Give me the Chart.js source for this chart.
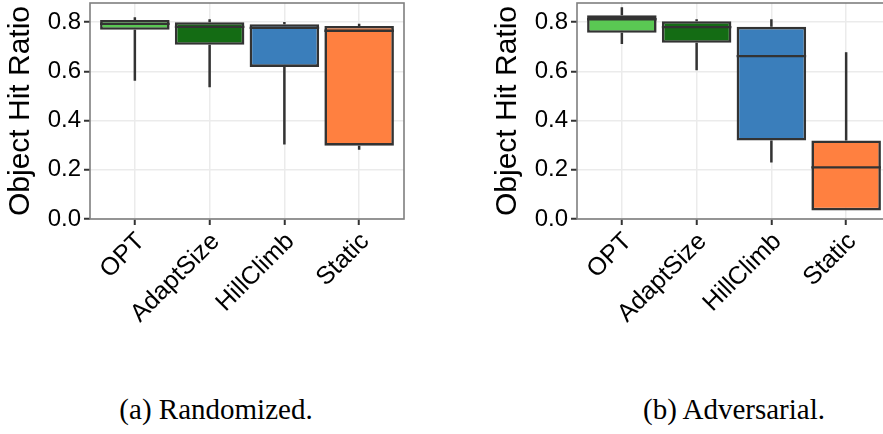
<!DOCTYPE html>
<html>
<head>
<meta charset="utf-8">
<script src="https://cdn.jsdelivr.net/npm/chart.js@4/dist/chart.umd.min.js"></script>
<style>
  html, body { margin: 0; padding: 0; background: #fff; }
  body { width: 883px; height: 434px; position: relative; overflow: hidden; }
  canvas { position: absolute; top: 0; }
  .caption { position: absolute; font-family: "Liberation Serif", serif; font-size: 29px; color: #000; white-space: nowrap; transform: translateX(-50%); }
</style>
</head>
<body>
<canvas id="chartRand" width="441" height="340" style="left:0px"></canvas>
<canvas id="chartAdv" width="441" height="340" style="left:487px"></canvas>
<div class="caption" style="left:216px; top:393px">(a) Randomized.</div>
<div class="caption" style="left:734px; top:393px">(b) Adversarial.</div>

<script>
// categories and tick labels
var categories = ['OPT', 'AdaptSize', 'HillClimb', 'Static'];
var yTickLabels = [0.0, 0.2, 0.4, 0.6, 0.8];

// (a) Randomized
var randMin = [0.562, 0.536, 0.303, 0.281];
var randQ1  = [0.769, 0.708, 0.618, 0.298];
var randMed = [0.793, 0.781, 0.777, 0.765];
var randQ3  = [0.809, 0.800, 0.792, 0.785];
var randMax = [0.820, 0.812, 0.801, 0.794];

// (b) Adversarial
var advMin = [0.711, 0.605, 0.230, 0.035];
var advQ1  = [0.757, 0.716, 0.319, 0.035];
var advMed = [0.812, 0.780, 0.662, 0.210];
var advQ3  = [0.828, 0.804, 0.781, 0.319];
var advMax = [0.861, 0.812, 0.812, 0.678];

var boxColors = ['#5AC853', '#146C14', '#3A7EBB', '#FF8040'];

// whiskers, medians and panel frame
var boxParts = {
    id: 'boxParts',
    beforeDatasetsDraw: function(chart, args, opts) {
        var ctx = chart.ctx, xs = chart.scales.x, ys = chart.scales.y;
        ctx.save();
        ctx.strokeStyle = '#333333';
        ctx.lineWidth = 2.5;
        for (var i = 0; i < categories.length; i++) {
            var x = xs.getPixelForValue(i + 1);
            ctx.beginPath();
            ctx.moveTo(x, ys.getPixelForValue(opts.min[i]));
            ctx.lineTo(x, ys.getPixelForValue(opts.q1[i]));
            ctx.moveTo(x, ys.getPixelForValue(opts.q3[i]));
            ctx.lineTo(x, ys.getPixelForValue(opts.max[i]));
            ctx.stroke();
        }
        ctx.restore();
    },
    afterDatasetsDraw: function(chart, args, opts) {
        var ctx = chart.ctx, ys = chart.scales.y;
        var meta = chart.getDatasetMeta(0);
        ctx.save();
        ctx.strokeStyle = '#333333';
        ctx.lineWidth = 2.4;
        meta.data.forEach(function(bar, i) {
            var y = ys.getPixelForValue(opts.med[i]);
            ctx.beginPath();
            ctx.moveTo(bar.x - bar.width / 2, y);
            ctx.lineTo(bar.x + bar.width / 2, y);
            ctx.stroke();
        });
        var a = chart.chartArea;
        ctx.strokeStyle = '#7F7F7F';
        ctx.lineWidth = 1.6;
        ctx.strokeRect(a.left, a.top, a.right - a.left, a.bottom - a.top);
        ctx.restore();
    }
};

function isMajor(v) {
    return Math.round(v * 10) % 2 === 0;
}

function createBoxChart(elementId, q1, q3, mn, md, mx) {
    var element = document.getElementById(elementId);
    if (!element) {
        console.error('Element #' + elementId + ' not found');
        return null;
    }
    var ctx = element.getContext('2d');
    return new Chart(ctx, {
        type: 'bar',
        data: {
            datasets: [{
                data: categories.map(function(c, i) { return { x: i + 1, y: [q1[i], q3[i]] }; }),
                backgroundColor: boxColors,
                borderColor: '#333333',
                borderWidth: 2.6,
                borderSkipped: false,
                categoryPercentage: 0.93,
                barPercentage: 1
            }]
        },
        options: {
            responsive: false,
            animation: false,
            devicePixelRatio: 1,
            layout: { padding: { top: 3, right: 37, bottom: 0, left: 0 } },
            plugins: {
                legend: { display: false },
                tooltip: { enabled: false },
                boxParts: { q1: q1, q3: q3, min: mn, med: md, max: mx }
            },
            scales: {
                x: {
                    type: 'linear',
                    min: 0.4,
                    max: 4.6,
                    offset: false,
                    afterBuildTicks: function(scale) {
                        scale.ticks = categories.map(function(c, i) { return { value: i + 1 }; });
                    },
                    afterFit: function(scale) {
                        scale.height = 340 - 219;
                        scale.paddingLeft = 0;
                        scale.paddingRight = 0;
                    },
                    ticks: {
                        minRotation: 45,
                        maxRotation: 45,
                        padding: 2,
                        labelOffset: 6,
                        color: '#000',
                        font: { family: 'Liberation Sans', size: 25 },
                        callback: function(v) { return categories[v - 1]; }
                    },
                    grid: {
                        offset: false,
                        color: '#EBEBEB',
                        lineWidth: 1.5,
                        tickColor: '#333333',
                        tickWidth: 2,
                        tickLength: 6
                    },
                    border: { display: false }
                },
                y: {
                    min: 0,
                    max: 0.878,
                    afterFit: function(scale) {
                        scale.width = 90;
                        scale.paddingTop = 0;
                        scale.paddingBottom = 0;
                    },
                    ticks: {
                        stepSize: 0.1,
                        includeBounds: false,
                        padding: 3,
                        color: '#000',
                        font: { family: 'Liberation Sans', size: 24 },
                        callback: function(v) {
                            return isMajor(v) && yTickLabels.indexOf(Math.round(v * 10) / 10) >= 0 ? v.toFixed(1) : '';
                        }
                    },
                    grid: {
                        color: function(c) { return isMajor(c.tick.value) ? '#EBEBEB' : '#F6F6F6'; },
                        lineWidth: function(c) { return isMajor(c.tick.value) ? 1.5 : 1; },
                        tickColor: function(c) { return isMajor(c.tick.value) ? '#333333' : 'rgba(0,0,0,0)'; },
                        tickWidth: 2,
                        tickLength: 6
                    },
                    border: { display: false },
                    title: {
                        display: true,
                        text: 'Object Hit Ratio',
                        color: '#000',
                        font: { family: 'Liberation Sans', size: 30, lineHeight: 1 },
                        padding: { top: 6, bottom: 0 }
                    }
                }
            }
        },
        plugins: [boxParts]
    });
}

document.addEventListener('DOMContentLoaded', function() {
    createBoxChart('chartRand', randQ1, randQ3, randMin, randMed, randMax);
    createBoxChart('chartAdv', advQ1, advQ3, advMin, advMed, advMax);
});
</script>
</body>
</html>
